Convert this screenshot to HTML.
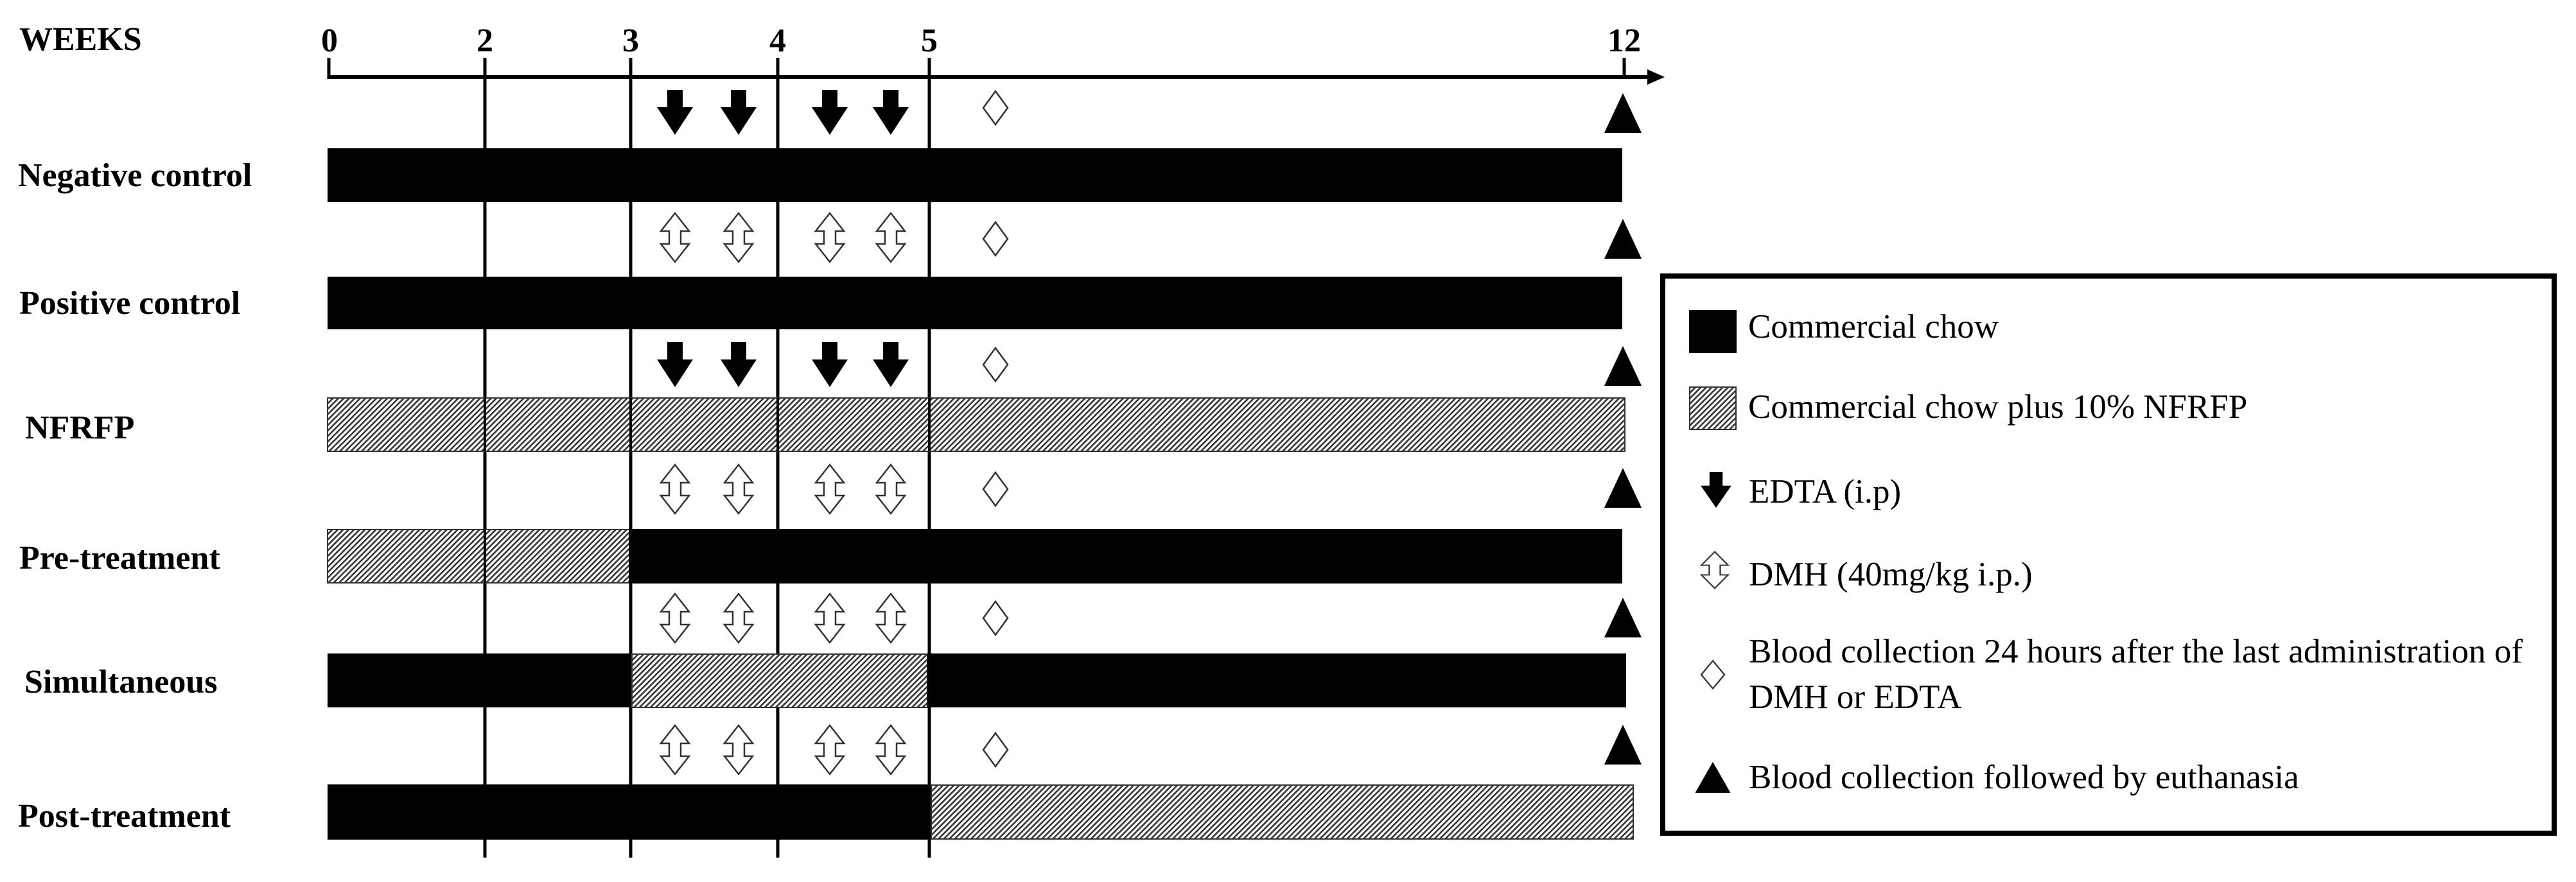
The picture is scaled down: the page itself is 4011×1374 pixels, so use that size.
<!DOCTYPE html>
<html><head><meta charset="utf-8"><style>
html,body{margin:0;padding:0;background:#fff;}
svg{display:block;}
text{font-family:"Liberation Serif",serif;}
.b{font-weight:bold;font-size:52px;}
.l{font-size:53px;}
</style></head><body>
<svg width="4011" height="1374" viewBox="0 0 4011 1374" xmlns="http://www.w3.org/2000/svg">
<defs>
<pattern id="h" patternUnits="userSpaceOnUse" width="6" height="6" patternTransform="rotate(45)">
<rect width="6" height="6" fill="#fff"/>
<rect x="0" y="0" width="2.6" height="6" fill="#333"/>
</pattern>
<g id="ed"><polygon points="-12,-35 12,-35 12,-8 28,-8 0,35 -28,-8 -12,-8" fill="#000"/></g>
<g id="dm"><polygon points="0,-38 22,-10 9,-10 9,10 22,10 0,38 -22,10 -9,10 -9,-10 -22,-10" fill="#fff" stroke="#333" stroke-width="2.5"/></g>
<g id="di"><polygon points="0,-26 19,0 0,26 -19,0" fill="#fff" stroke="#333" stroke-width="2.5"/></g>
<g id="tr"><polygon points="0,-31 29,31 -29,31" fill="#000"/></g>
</defs>
<!-- axis -->
<text class="b" x="30" y="78">WEEKS</text>
<g class="b" text-anchor="middle">
<text x="513" y="80">0</text><text x="755" y="80">2</text><text x="982" y="80">3</text>
<text x="1211" y="80">4</text><text x="1447" y="80">5</text><text x="2529" y="80">12</text>
</g>
<line x1="510" y1="120" x2="2570" y2="120" stroke="#000" stroke-width="6"/>
<polygon points="2565,108 2592,120 2565,132" fill="#000"/>
<line x1="512" y1="90" x2="512" y2="123" stroke="#000" stroke-width="5"/>
<line x1="2529" y1="90" x2="2529" y2="120" stroke="#000" stroke-width="5"/>
<g stroke="#000" stroke-width="5">
<line x1="755" y1="90" x2="755" y2="1336"/><line x1="982" y1="90" x2="982" y2="1336"/>
<line x1="1211" y1="90" x2="1211" y2="1336"/><line x1="1447" y1="90" x2="1447" y2="1336"/>
</g>
<!-- bars -->
<rect x="510" y="231" width="2016" height="84" fill="#000"/>
<rect x="510" y="431" width="2016" height="82" fill="#000"/>
<rect x="510" y="620" width="2020" height="83" fill="url(#h)" stroke="#333" stroke-width="2"/>
<line x1="755" y1="620" x2="755" y2="703" stroke="#000" stroke-width="4"/><line x1="982" y1="620" x2="982" y2="703" stroke="#000" stroke-width="4"/><line x1="1211" y1="620" x2="1211" y2="703" stroke="#000" stroke-width="4"/><line x1="1447" y1="620" x2="1447" y2="703" stroke="#000" stroke-width="4"/>
<rect x="510" y="825" width="470" height="83" fill="url(#h)" stroke="#333" stroke-width="2"/>
<line x1="755" y1="825" x2="755" y2="908" stroke="#000" stroke-width="4"/>
<rect x="979" y="824" width="1547" height="85" fill="#000"/>
<rect x="510" y="1018" width="474" height="84" fill="#000"/>
<rect x="984" y="1019" width="460" height="83" fill="url(#h)" stroke="#333" stroke-width="2"/>
<rect x="1444" y="1018" width="1088" height="84" fill="#000"/>
<rect x="510" y="1222" width="940" height="86" fill="#000"/>
<rect x="1450" y="1223" width="1093" height="84" fill="url(#h)" stroke="#333" stroke-width="2"/>
<!-- labels -->
<g class="b">
<text x="28" y="290">Negative control</text>
<text x="30" y="489">Positive control</text>
<text x="39" y="683">NFRFP</text>
<text x="30" y="886">Pre-treatment</text>
<text x="38" y="1079">Simultaneous</text>
<text x="28" y="1288">Post-treatment</text>
</g>
<!-- icons -->
<use href="#ed" x="1051" y="175"/><use href="#ed" x="1150" y="175"/><use href="#ed" x="1292" y="175"/><use href="#ed" x="1387" y="175"/>
<use href="#di" x="1550" y="168"/><use href="#tr" x="2527" y="176"/>
<use href="#dm" x="1051" y="370"/><use href="#dm" x="1150" y="370"/><use href="#dm" x="1292" y="370"/><use href="#dm" x="1387" y="370"/>
<use href="#di" x="1550" y="372"/><use href="#tr" x="2527" y="372"/>
<use href="#ed" x="1051" y="568"/><use href="#ed" x="1150" y="568"/><use href="#ed" x="1292" y="568"/><use href="#ed" x="1387" y="568"/>
<use href="#di" x="1550" y="568"/><use href="#tr" x="2527" y="570"/>
<use href="#dm" x="1051" y="762"/><use href="#dm" x="1150" y="762"/><use href="#dm" x="1292" y="762"/><use href="#dm" x="1387" y="762"/>
<use href="#di" x="1550" y="762"/><use href="#tr" x="2527" y="760"/>
<use href="#dm" x="1051" y="963"/><use href="#dm" x="1150" y="963"/><use href="#dm" x="1292" y="963"/><use href="#dm" x="1387" y="963"/>
<use href="#di" x="1550" y="963"/><use href="#tr" x="2527" y="962"/>
<use href="#dm" x="1051" y="1168"/><use href="#dm" x="1150" y="1168"/><use href="#dm" x="1292" y="1168"/><use href="#dm" x="1387" y="1168"/>
<use href="#di" x="1550" y="1168"/><use href="#tr" x="2527" y="1160"/>
<!-- legend -->
<rect x="2589" y="430" width="1388" height="868" fill="none" stroke="#000" stroke-width="8"/>
<rect x="2630" y="483" width="74" height="67" fill="#000"/>
<rect x="2631" y="603" width="72" height="66" fill="url(#h)" stroke="#333" stroke-width="2"/>
<g transform="translate(2672,763) scale(0.85,0.8)"><use href="#ed"/></g>
<g transform="translate(2670,888) scale(0.95,0.75)"><use href="#dm"/></g>
<g transform="translate(2667,1051) scale(0.95,0.83)"><use href="#di"/></g>
<g transform="translate(2667,1211) scale(0.95,0.78)"><use href="#tr"/></g>
<g class="l">
<text x="2722" y="526">Commercial chow</text>
<text x="2722" y="651">Commercial chow plus 10% NFRFP</text>
<text x="2723" y="783">EDTA (i.p)</text>
<text x="2723" y="912">DMH (40mg/kg i.p.)</text>
<text x="2723" y="1032" textLength="1205" lengthAdjust="spacingAndGlyphs">Blood collection 24 hours after the last administration of</text>
<text x="2723" y="1103">DMH or EDTA</text>
<text x="2723" y="1228">Blood collection followed by euthanasia</text>
</g>
</svg>
</body></html>
